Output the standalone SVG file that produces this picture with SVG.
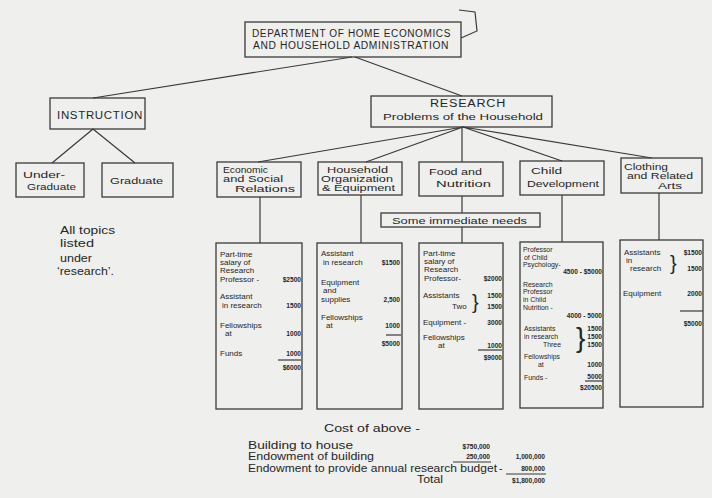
<svg xmlns="http://www.w3.org/2000/svg" width="712" height="498" viewBox="0 0 712 498">
<style>
.bx{fill:none;stroke:#3a3a3a;stroke-width:1.3}
.ln{fill:none;stroke:#3a3a3a;stroke-width:1.2}
text{font-family:"Liberation Sans","DejaVu Sans",sans-serif;fill:#262626}
.h{font-size:9.5px}
.hs{font-size:8.6px}
.cap{font-size:10px;letter-spacing:0.6px}
.s{font-size:8px}
.c{font-size:6.9px}
.n{font-size:6.6px;text-anchor:end;font-weight:bold}
.b{font-size:10.5px}
.t{font-size:10px}
.br{font-size:20px;font-weight:300}
</style>
<rect width="712" height="498" fill="#efefed"/>
<g id="connectors">
<path class="ln" d="M352,57 L93,98 M355,57 L462,96"/>
<path class="ln" d="M461,38 L477,31 L475,12 L459,10"/>
<path class="ln" d="M93,129 L52,163 M93,129 L135,163"/>
<path class="ln" d="M463,127 L258,162 M463,127 L366,162 M462,127 L462,162 M463,127 L562,161 M463,127 L652,158"/>
<path class="ln" d="M260,197 V243 M361,195 V243 M462,196 V213 M462,227 V243 M562,195 V242 M659,193 V240"/>
</g>
<g id="department">
<rect class="bx" x="245" y="22" width="216" height="35"/>
<text class="cap" x="252" y="37" textLength="199" lengthAdjust="spacingAndGlyphs">DEPARTMENT OF HOME ECONOMICS</text>
<text class="cap" x="253" y="49" textLength="196" lengthAdjust="spacingAndGlyphs">AND HOUSEHOLD ADMINISTRATION</text>
</g>
<g id="instruction">
<rect class="bx" x="50" y="98" width="95" height="31"/>
<text class="cap" x="57" y="119" textLength="86" lengthAdjust="spacingAndGlyphs">INSTRUCTION</text>
</g>
<g id="research">
<rect class="bx" x="371" y="96" width="181" height="31"/>
<text class="cap" x="430" y="107" textLength="76" lengthAdjust="spacingAndGlyphs">RESEARCH</text>
<text class="h" x="383" y="120" textLength="160" lengthAdjust="spacingAndGlyphs">Problems of the Household</text>
</g>
<g id="undergraduate">
<rect class="bx" x="16" y="163" width="68" height="34"/>
<text class="h" x="23" y="178" textLength="42" lengthAdjust="spacingAndGlyphs">Under-</text>
<text class="h" x="27" y="190" textLength="49" lengthAdjust="spacingAndGlyphs">Graduate</text>
</g>
<g id="graduate">
<rect class="bx" x="102" y="163" width="71" height="34"/>
<text class="h" x="110" y="184" textLength="53" lengthAdjust="spacingAndGlyphs">Graduate</text>
</g>
<g id="all-topics">
<text class="t" x="60" y="234" textLength="55" lengthAdjust="spacingAndGlyphs">All topics</text>
<text class="t" x="60" y="247" textLength="34" lengthAdjust="spacingAndGlyphs">listed</text>
<text class="t" x="60" y="262" textLength="32" lengthAdjust="spacingAndGlyphs">under</text>
<text class="t" x="57" y="275" textLength="57" lengthAdjust="spacingAndGlyphs">‘research’.</text>
</g>
<g id="economic">
<rect class="bx" x="217" y="162" width="84" height="35"/>
<text class="hs" x="223" y="173" textLength="45" lengthAdjust="spacingAndGlyphs">Economic</text>
<text class="hs" x="223" y="182" textLength="60" lengthAdjust="spacingAndGlyphs">and Social</text>
<text class="hs" x="235" y="192" textLength="60" lengthAdjust="spacingAndGlyphs">Relations</text>
</g>
<g id="household">
<rect class="bx" x="318" y="162" width="84" height="33"/>
<text class="hs" x="327" y="173" textLength="61" lengthAdjust="spacingAndGlyphs">Household</text>
<text class="hs" x="321" y="182" textLength="72" lengthAdjust="spacingAndGlyphs">Organization</text>
<text class="hs" x="322" y="191" textLength="73" lengthAdjust="spacingAndGlyphs">&amp; Equipment</text>
</g>
<g id="food">
<rect class="bx" x="419" y="162" width="84" height="34"/>
<text class="h" x="429" y="175" textLength="53" lengthAdjust="spacingAndGlyphs">Food and</text>
<text class="h" x="436" y="187" textLength="55" lengthAdjust="spacingAndGlyphs">Nutrition</text>
</g>
<g id="child">
<rect class="bx" x="520" y="161" width="84" height="34"/>
<text class="h" x="531" y="174" textLength="31" lengthAdjust="spacingAndGlyphs">Child</text>
<text class="h" x="527" y="187" textLength="72" lengthAdjust="spacingAndGlyphs">Development</text>
</g>
<g id="clothing">
<rect class="bx" x="621" y="158" width="81" height="35"/>
<text class="hs" x="624" y="170" textLength="44" lengthAdjust="spacingAndGlyphs">Clothing</text>
<text class="hs" x="627" y="179" textLength="66" lengthAdjust="spacingAndGlyphs">and Related</text>
<text class="hs" x="658" y="189" textLength="24" lengthAdjust="spacingAndGlyphs">Arts</text>
</g>
<g id="immediate-needs">
<rect class="bx" x="381" y="213" width="159" height="14"/>
<text class="h" x="392" y="224" textLength="135" lengthAdjust="spacingAndGlyphs">Some immediate needs</text>
</g>
<g id="economic-budget">
<rect class="bx" x="216" y="243" width="86" height="166"/>
<text class="s" x="220" y="257">Part-time</text>
<text class="s" x="220" y="265">salary of</text>
<text class="s" x="220" y="273">Research</text>
<text class="s" x="220" y="282">Professor -</text>
<text class="n" x="301" y="282">$2500</text>
<text class="s" x="220" y="299">Assistant</text>
<text class="s" x="222" y="308">in research</text>
<text class="n" x="301" y="308">1500</text>
<text class="s" x="220" y="328">Fellowships</text>
<text class="s" x="225" y="336">at</text>
<text class="n" x="301" y="336">1000</text>
<text class="s" x="220" y="356">Funds</text>
<text class="n" x="301" y="356">1000</text>
<path class="ln" d="M278,360 H301"/>
<text class="n" x="301" y="370">$6000</text>
</g>
<g id="household-budget">
<rect class="bx" x="317" y="243" width="85" height="166"/>
<text class="s" x="321" y="256">Assistant</text>
<text class="s" x="323" y="265">in research</text>
<text class="n" x="400" y="265">$1500</text>
<text class="s" x="321" y="285">Equipment</text>
<text class="s" x="323" y="293">and</text>
<text class="s" x="321" y="302">supplies</text>
<text class="n" x="400" y="302">2,500</text>
<text class="s" x="321" y="320">Fellowships</text>
<text class="s" x="326" y="328">at</text>
<text class="n" x="400" y="328">1000</text>
<path class="ln" d="M386,335 H401"/>
<text class="n" x="400" y="346">$5000</text>
</g>
<g id="food-budget">
<rect class="bx" x="419" y="243" width="84" height="166"/>
<text class="s" x="423" y="256">Part-time</text>
<text class="s" x="424" y="264">salary of</text>
<text class="s" x="424" y="272">Research</text>
<text class="s" x="424" y="281">Professor-</text>
<text class="n" x="502" y="281">$2000</text>
<text class="s" x="423" y="298">Assistants</text>
<text class="s" x="452" y="309">Two</text>
<text class="br" x="472" y="309">}</text>
<text class="n" x="502" y="298">1500</text>
<text class="n" x="502" y="309">1500</text>
<text class="s" x="423" y="325">Equipment -</text>
<text class="n" x="502" y="325">3000</text>
<text class="s" x="423" y="340">Fellowships</text>
<text class="s" x="438" y="348">at</text>
<text class="n" x="502" y="348">1000</text>
<path class="ln" d="M478,350 H502"/>
<text class="n" x="502" y="360">$9000</text>
</g>
<g id="child-budget">
<rect class="bx" x="520" y="242" width="83" height="166"/>
<text class="c" x="523" y="252">Professor</text>
<text class="c" x="524" y="260">of Child</text>
<text class="c" x="523" y="267">Psychology-</text>
<text class="n" x="602" y="274">4500 - $5000</text>
<text class="c" x="523" y="287">Research</text>
<text class="c" x="523" y="294">Professor</text>
<text class="c" x="523" y="302">in Child</text>
<text class="c" x="523" y="310">Nutrition -</text>
<text class="n" x="602" y="318">4000 - 5000</text>
<text class="c" x="524" y="331">Assistants</text>
<text class="c" x="524" y="339">in research</text>
<text class="c" x="543" y="347">Three</text>
<text style="font-size:28px;font-weight:300" x="576" y="347">}</text>
<text class="n" x="602" y="331">1500</text>
<text class="n" x="602" y="339">1500</text>
<text class="n" x="602" y="347">1500</text>
<text class="c" x="524" y="359">Fellowships</text>
<text class="c" x="538" y="367">at</text>
<text class="n" x="602" y="367">1000</text>
<text class="c" x="524" y="380">Funds -</text>
<text class="n" x="602" y="379">5000</text>
<path class="ln" d="M585,381 H603"/>
<text class="n" x="602" y="390">$20500</text>
</g>
<g id="clothing-budget">
<rect class="bx" x="620" y="240" width="83" height="167"/>
<text class="s" x="624" y="255">Assistants</text>
<text class="s" x="626" y="263">in</text>
<text class="s" x="630" y="271">research</text>
<text class="br" x="670" y="270">}</text>
<text class="n" x="702" y="255">$1500</text>
<text class="n" x="702" y="271">1500</text>
<text class="s" x="623" y="296">Equipment</text>
<text class="n" x="702" y="296">2000</text>
<path class="ln" d="M680,311 H703"/>
<text class="n" x="702" y="326">$5000</text>
</g>
<g id="cost">
<text class="b" x="324" y="432" textLength="96" lengthAdjust="spacingAndGlyphs">Cost of above -</text>
<text class="b" x="248" y="449" textLength="105" lengthAdjust="spacingAndGlyphs">Building to house</text>
<text class="b" x="248" y="460" textLength="126" lengthAdjust="spacingAndGlyphs">Endowment of building</text>
<text class="b" x="248" y="472" textLength="249" lengthAdjust="spacingAndGlyphs">Endowment to provide annual research budget</text>
<text class="b" x="499" y="472">-</text>
<text class="b" x="417" y="483" textLength="26" lengthAdjust="spacingAndGlyphs">Total</text>
<text class="n" x="490" y="449">$750,000</text>
<text class="n" x="490" y="459">250,000</text>
<path class="ln" d="M453,462 H491"/>
<text class="n" x="545" y="459">1,000,000</text>
<text class="n" x="545" y="471">800,000</text>
<path class="ln" d="M506,474 H546"/>
<text class="n" x="545" y="483">$1,800,000</text>
</g>
</svg>
